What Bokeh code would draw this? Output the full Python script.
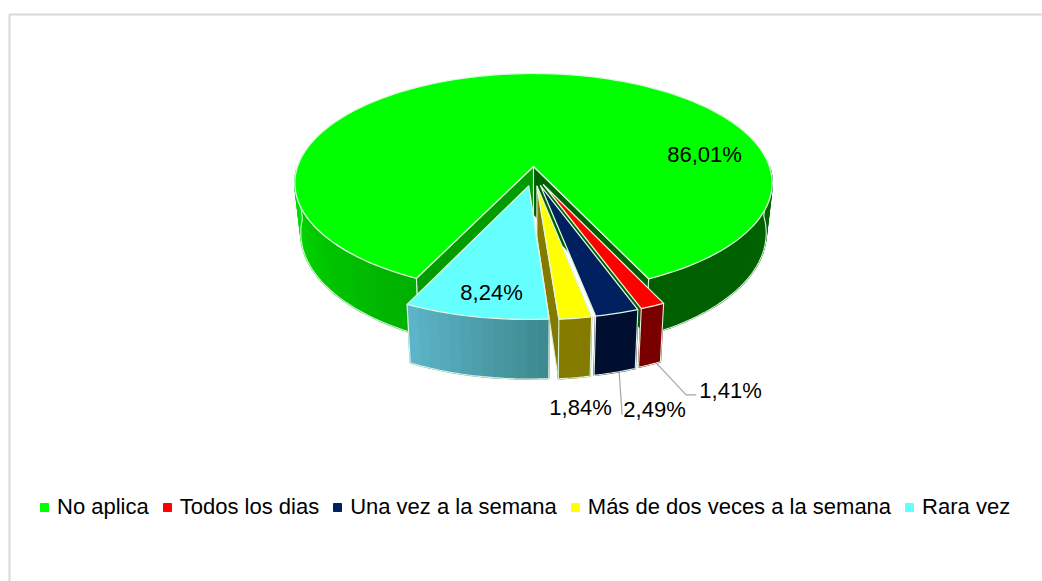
import numpy as np
from bokeh.plotting import figure
from bokeh.models import Legend, LegendItem
from bokeh.core.properties import value
from bokeh.embed import file_html
from bokeh.resources import INLINE

categories = ["No aplica", "Todos los dias", "Una vez a la semana", "Más de dos veces a la semana", "Rara vez"]
shares = [86.01, 1.41, 2.49, 1.84, 8.24]
labels = ["86,01%", "1,41%", "2,49%", "1,84%", "8,24%"]
top_colors = ["#00FF00", "#FF0000", "#002060", "#FFFF00", "#66FFFF"]

# layout / projection settings
W, H = 1042, 581
CX, CY = 533, 166          # pie centre in figure pixels
A, B, P = 236, 107, 0.15   # radii and perspective
DEPTH, SHRINK = 49, 0.975
FIRST_ANGLE = 205.4
EXPLODE = [0.0, 0.18, 0.18, 0.18, 0.18]
EXPLODE_X = 0.6
EDGE = "#dff5df"
FONT = value("Liberation Sans")


def project(u, v, low=False):
    s = 1 / (1 - P * np.asarray(v))
    x = A * np.asarray(u) * s
    y = CY + B * np.asarray(v) * s
    if low:
        return CX + x * SHRINK, y + DEPTH * s
    return CX + x, y


def mix(c1, c2, t):
    a = np.array([int(c1[i:i + 2], 16) for i in (1, 3, 5)])
    b = np.array([int(c2[i:i + 2], 16) for i in (1, 3, 5)])
    r = (a + (b - a) * t).astype(int)
    return "#%02x%02x%02x" % tuple(r)


p = figure(width=W, height=H, x_range=(0, W), y_range=(H, 0), toolbar_location=None,
           output_backend="svg", min_border=0, outline_line_color=None)
p.xaxis.visible = False
p.yaxis.visible = False
p.grid.visible = False

# chart frame (only the top and left edges reach the picture)
p.line([9, 9, W], [H, 14, 14], line_color="#d9d9d9", line_width=2)

# slices
spans = np.array(shares) / sum(shares) * 360
starts = FIRST_ANGLE + np.concatenate([[0], np.cumsum(spans)[:-1]])
geo = []
for st, sp, ex in zip(starts, spans, EXPLODE):
    mid = np.radians(st + sp / 2)
    ou, ov = ex * EXPLODE_X * np.sin(mid), -ex * np.cos(mid)
    t = np.radians(np.linspace(st, st + sp, max(int(sp / 2), 6)))
    geo.append((ou, ov, ou + np.sin(t), ov - np.cos(t)))


def top_face(i):
    ou, ov, u, v = geo[i]
    x, y = project(np.r_[ou, u], np.r_[ov, v])
    p.patch(x, y, fill_color=top_colors[i], line_color=EDGE, line_width=1.3, line_join="round")


def cut_wall(ou, ov, u, v, color):
    x1, y1 = project(np.array([ou, u]), np.array([ov, v]))
    x2, y2 = project(np.array([u, ou]), np.array([v, ov]), low=True)
    p.patch(np.r_[x1, x2], np.r_[y1, y2], fill_color=color, line_color=EDGE, line_width=1.1)


def outer_wall(i, mask, c1, c2):
    ou, ov, u, v = geo[i]
    u, v = u[mask], v[mask]
    xt, yt = project(u, v)
    xb, yb = project(u, v, low=True)
    n = len(u) - 1
    for k in range(n):
        col = mix(c1, c2, k / max(n - 1, 1))
        p.patch([xt[k], xt[k + 1], xb[k + 1], xb[k]], [yt[k], yt[k + 1], yb[k + 1], yb[k]],
                fill_color=col, line_color=col, line_width=1.5)
    p.line(np.r_[xt[0], xb, xt[-1]], np.r_[yt[0], yb, yt[-1]], line_color=EDGE, line_width=1.1)


# main slice: notch walls, outer walls, top
ou, ov, u, v = geo[0]
idx = np.where(v > 0.0)[0]
split = np.where(np.diff(idx) > 1)[0][0]
left_mask, right_mask = idx[:split + 1], idx[split + 1:]
outer_wall(0, left_mask, "#00b000", "#00e000")
outer_wall(0, right_mask, "#006400", "#006000")
cut_wall(ou, ov, u[0], v[0], "#009c00")
cut_wall(ou, ov, u[-1], v[-1], "#006000")
top_face(0)

wall_colors = {1: ("#7a0000", "#7a0000"), 2: ("#000f30", "#000f30"),
               3: ("#857a00", "#857a00"), 4: ("#3f8a90", "#5cb4c8")}
side_colors = {1: "#7a0000", 2: "#000f30", 3: "#857a00", 4: "#3f8a90"}

# drawn from the right-hand slice to the left-hand one
for i in [1, 2, 3, 4]:
    ou, ov, u, v = geo[i]
    if i == 3:
        cut_wall(ou, ov, u[-1], v[-1], side_colors[i])
    c = wall_colors[i]
    outer_wall(i, np.arange(len(u)), c[0], c[1])
    top_face(i)


# data labels
def wall_anchor(i, frac):
    _, _, u, v = geo[i]
    k = int(frac * (len(u) - 1))
    return project(u[k], v[k], low=True)


ax1, ay1 = wall_anchor(1, 0.3)
ax2, ay2 = wall_anchor(2, 0.5)
p.line([ax1, ax1 + 30, ax1 + 40], [ay1, ay1 + 32, ay1 + 32], line_color="#a6a6a6", line_width=1.2)
p.line([ax2, ax2 + 3], [ay2, ay2 + 43], line_color="#a6a6a6", line_width=1.2)

label_x = [704, 730, 654, 580, 491]
label_y = [154, 390, 409, 407, 292]
p.text(label_x, label_y, text=labels, text_font=FONT, text_font_size="22px",
       text_align="center", text_baseline="middle", text_color="#000000")

# legend
items = []
for name, col in zip(categories, top_colors):
    r = p.quad(left=[np.nan], right=[np.nan], top=[np.nan], bottom=[np.nan], fill_color=col, line_color=col)
    items.append(LegendItem(label=value(name), renderers=[r]))
legend = Legend(items=items, orientation="horizontal", location=(39, 61), glyph_width=10, glyph_height=10,
                label_standoff=8, spacing=13, padding=0, margin=0, border_line_color=None,
                background_fill_alpha=0, label_text_font="Liberation Sans", label_text_font_size="22px",
                label_text_color="#000000")
p.add_layout(legend, "center")

open("out.html", "w").write(file_html(p, INLINE))
